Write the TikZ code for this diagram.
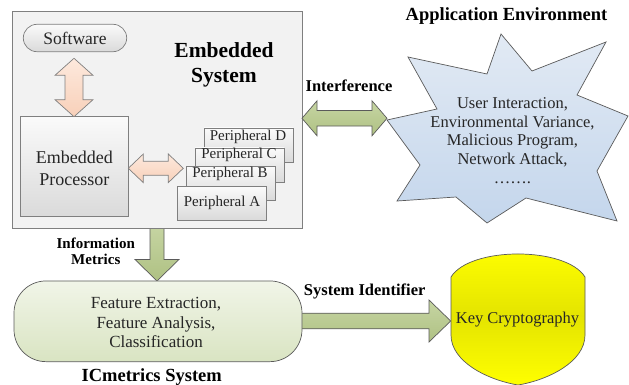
\documentclass[tikz,border=0pt]{standalone}
\usepackage{fontspec}
\setmainfont{Liberation Serif}[Ligatures=TeX]
\newfontfamily\tnr{Liberation Serif}
\usetikzlibrary{calc}
\definecolor{edge}{HTML}{7F7F7F}
\definecolor{darkedge}{HTML}{5A5A5A}
\definecolor{txtc}{HTML}{262626}
\definecolor{sysfill}{HTML}{F2F2F2}
\definecolor{graytop}{HTML}{FAFAFA}
\definecolor{graybot}{HTML}{DADADA}
\definecolor{peachtop}{HTML}{FDE9DD}
\definecolor{peachbot}{HTML}{F8D0B9}
\definecolor{greentop}{HTML}{C6D5A3}
\definecolor{greenbot}{HTML}{AFC183}
\definecolor{ictop}{HTML}{F1F5E8}
\definecolor{icbot}{HTML}{D9E4C2}
\definecolor{startop}{HTML}{E2EAF4}
\definecolor{starbot}{HTML}{C4D6EC}
\definecolor{keytop}{HTML}{FFFF00}
\definecolor{keymid}{HTML}{E4E400}
\newcommand\blockHD[7]{% style, x1, x2, yc, shaft half, head half, head length
  \draw[#1] (#2,#4) -- ({#2+#7},{#4-#6}) -- ({#2+#7},{#4-#5}) -- ({#3-#7},{#4-#5})
    -- ({#3-#7},{#4-#6}) -- (#3,#4) -- ({#3-#7},{#4+#6}) -- ({#3-#7},{#4+#5})
    -- ({#2+#7},{#4+#5}) -- ({#2+#7},{#4+#6}) -- cycle;}
\newcommand\blockVD[7]{% style, y1, y2, xc, shaft half, head half, head length
  \draw[#1] (#4,#2) -- ({#4+#6},{#2+#7}) -- ({#4+#5},{#2+#7}) -- ({#4+#5},{#3-#7})
    -- ({#4+#6},{#3-#7}) -- (#4,#3) -- ({#4-#6},{#3-#7}) -- ({#4-#5},{#3-#7})
    -- ({#4-#5},{#2+#7}) -- ({#4-#6},{#2+#7}) -- cycle;}
\newcommand\blockRight[7]{% style, x1, x2, yc, shaft half, head half, head length
  \draw[#1] (#2,{#4-#5}) -- ({#3-#7},{#4-#5}) -- ({#3-#7},{#4-#6}) -- (#3,#4)
    -- ({#3-#7},{#4+#6}) -- ({#3-#7},{#4+#5}) -- (#2,{#4+#5}) -- cycle;}
\newcommand\blockDown[7]{% style, y1, y2, xc, shaft half, head half, head length
  \draw[#1] ({#4-#5},#2) -- ({#4-#5},{#3-#7}) -- ({#4-#6},{#3-#7}) -- (#4,#3)
    -- ({#4+#6},{#3-#7}) -- ({#4+#5},{#3-#7}) -- ({#4+#5},#2) -- cycle;}
\begin{document}
\begin{tikzpicture}[x=1pt,y=-1pt,
  txt/.style={font=\tnr\fontsize{17}{19}\selectfont, text=txtc, align=center, inner sep=0pt},
  lbl/.style={font=\tnr\bfseries\fontsize{16.5}{18}\selectfont, text=black, align=center, inner sep=0pt},
  graybox/.style={draw=edge, line width=0.7pt, top color=graytop, bottom color=graybot},
  perbox/.style={graybox, minimum width=89pt, minimum height=34pt, inner sep=0pt},
  pertext/.style={font=\tnr\fontsize{15}{17}\selectfont, text=txtc, inner sep=0pt},
  peach/.style={draw=edge, line width=0.7pt, top color=peachtop, bottom color=peachbot},
  green/.style={draw=darkedge, line width=0.7pt, top color=greentop, bottom color=greenbot}]
\useasboundingbox (0,0) rectangle (629,385);

% information metrics arrow (under the boxes)
\blockDown{green}{224}{281}{157}{7}{22}{21.5}
% system identifier arrow
\blockRight{green}{290}{450.7}{321}{7.8}{21}{21.7}

% embedded system
\node[draw=edge, line width=0.7pt, fill=sysfill, minimum width=290.3pt, minimum height=217pt, inner sep=0pt] (es) at (157.15,119.5) {};
\node[lbl, font=\tnr\bfseries\fontsize{21.5}{25}\selectfont] (estitle) at (224,65) {Embedded\\System};

\node[graybox, rounded corners=13.7pt, minimum width=103.4pt, minimum height=27.4pt, inner sep=0pt] (sw) at (75,38) {};
\node[txt, font=\tnr\fontsize{17.5}{19}\selectfont] at (sw) {Software};

\node[graybox, minimum width=107.6pt, minimum height=100pt, inner sep=0pt] (proc) at (74.5,166.7) {};
\node[txt, font=\tnr\fontsize{18}{22}\selectfont] at (74.3,168) {Embedded\\Processor};

\blockVD{peach}{58.3}{116.7}{74}{9}{19}{17}
\blockHD{peach}{128.3}{183.3}{168.3}{7}{14.3}{15}

\node[perbox] (pd) at (248.5,145) {};
\node[pertext] at (248,136.5) {Peripheral D};
\node[perbox] (pc) at (239.5,165) {};
\node[pertext] at (239,155) {Peripheral C};
\node[perbox] (pb) at (230.5,183.5) {};
\node[pertext] at (230,173.5) {Peripheral B};
\node[perbox] (pa) at (222,203.5) {};
\node[pertext] at (222,203) {Peripheral A};

% application environment
\node[lbl, font=\tnr\bfseries\fontsize{18.5}{20}\selectfont] (appenv) at (506.5,16) {Application Environment};
\draw[draw=darkedge, line width=0.7pt, top color=startop, bottom color=starbot]
  (387,120) -- (437,109) -- (408,57) -- (487,74) -- (501,34) -- (532,71) -- (606,42)
  -- (577,95) -- (628,116) -- (597,171) -- (617,221) -- (526,198) -- (487,223)
  -- (456,197) -- (397,201) -- (420,165) -- cycle;
\node[txt, font=\tnr\fontsize{16.5}{18.8}\selectfont] (env) at (512.5,140.5) {User Interaction,\\Environmental Variance,\\Malicious Program,\\Network Attack,\\…….};

\blockHD{green}{302}{387}{118.3}{7.8}{17.5}{15}
\node[lbl] (intf) at (349,86) {Interference};

% ICmetrics system
\node[draw=darkedge, line width=0.7pt, rounded corners=32pt, top color=ictop, bottom color=icbot, minimum width=288pt, minimum height=80.7pt, inner sep=0pt] (ic) at (158,321.3) {};
\node[txt, font=\tnr\fontsize{17}{19.2}\selectfont] at (156,322.5) {Feature Extraction,\\Feature Analysis,\\Classification};
\node[lbl, font=\tnr\bfseries\fontsize{18.5}{20}\selectfont] (icl) at (151.7,377) {ICmetrics System};
\node[lbl, font=\tnr\bfseries\fontsize{15}{16.5}\selectfont] (im) at (95.8,251.5) {Information\\Metrics};
\node[lbl] (sid) at (364.7,291.5) {System Identifier};

% key cryptography
\draw[draw=darkedge, line width=0.7pt, top color=keytop, bottom color=keytop, middle color=keymid]
  (451,277) .. controls (470,246.3) and (566,246.3) .. (585,277) -- (585,335)
  .. controls (585,362) and (548,380) .. (518,385) .. controls (488,380) and (451,362) .. (451,335) -- cycle;
\node[txt, text=black!85, font=\tnr\fontsize{16.5}{19}\selectfont] (key) at (517.5,319.5) {Key Cryptography};
\end{tikzpicture}
\end{document}
